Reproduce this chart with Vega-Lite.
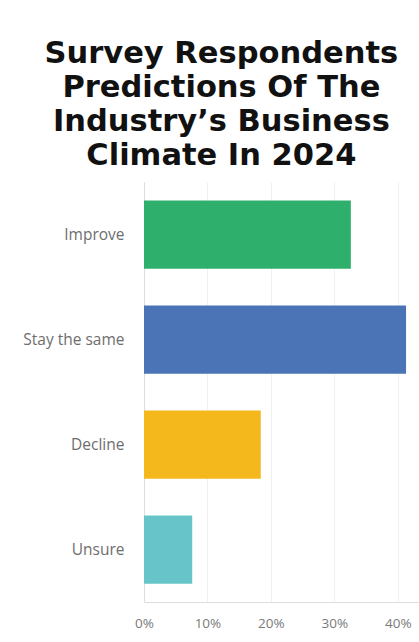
{
  "$schema": "https://vega.github.io/schema/vega-lite/v6.json",
  "width": 276,
  "height": 420,
  "padding": {"left": 22, "top": 38, "right": 0, "bottom": 8},
  "background": "white",
  "title": {
    "text": ["Survey Respondents", "Predictions Of The", "Industry’s Business", "Climate In 2024"],
    "font": "DejaVu Sans",
    "fontSize": 30.5,
    "fontWeight": "bold",
    "lineHeight": 34,
    "color": "#111111",
    "anchor": "middle",
    "frame": "bounds",
    "offset": 11
  },
  "data": {
    "values": [
      {"answer": "Improve", "pct": 32.6},
      {"answer": "Stay the same", "pct": 41.3},
      {"answer": "Decline", "pct": 18.4},
      {"answer": "Unsure", "pct": 7.6}
    ]
  },
  "mark": {"type": "bar"},
  "encoding": {
    "y": {
      "field": "answer",
      "type": "nominal",
      "sort": null,
      "scale": {"paddingInner": 0.35, "paddingOuter": 0.175},
      "axis": {
        "title": null,
        "ticks": false,
        "labelPadding": 20,
        "labelFont": "Open Sans",
        "labelFontSize": 15.5,
        "labelColor": "#6e6e6e",
        "domainColor": "#dddddd",
        "grid": false
      }
    },
    "x": {
      "field": "pct",
      "type": "quantitative",
      "scale": {"domain": [0, 43.5], "nice": false},
      "axis": {
        "title": null,
        "values": [0, 10, 20, 30, 40],
        "labelExpr": "datum.value + '%'",
        "ticks": false,
        "labelPadding": 14,
        "labelFont": "Open Sans",
        "labelFontSize": 13.5,
        "labelColor": "#7a7a7a",
        "domainColor": "#dddddd",
        "gridColor": "#f0f0f0",
        "labelFlush": false
      }
    },
    "color": {
      "field": "answer",
      "type": "nominal",
      "sort": null,
      "scale": {
        "domain": ["Improve", "Stay the same", "Decline", "Unsure"],
        "range": ["#2eb06c", "#4a74b6", "#f4b81c", "#67c5c9"]
      },
      "legend": null
    }
  },
  "config": {"view": {"stroke": null}}
}
